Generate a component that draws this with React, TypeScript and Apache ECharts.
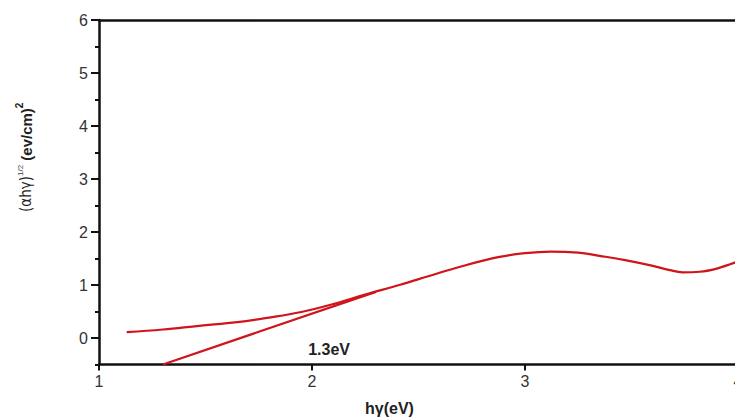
import React, { useEffect, useRef } from "react";
import * as echarts from "echarts";

const curveX = [1.13, 1.3, 1.47, 1.65, 1.79, 1.95, 2.1, 2.25, 2.41, 2.55, 2.7, 2.88, 3.0, 3.12, 3.25, 3.35, 3.47, 3.59, 3.68, 3.74, 3.82, 3.9, 3.99];
const curveY = [0.11, 0.16, 0.23, 0.3, 0.38, 0.49, 0.64, 0.82, 1.0, 1.17, 1.35, 1.53, 1.6, 1.63, 1.61, 1.55, 1.47, 1.37, 1.28, 1.24, 1.25, 1.31, 1.43];
const tangentX = [1.3, 2.3];
const tangentY = [-0.5, 0.87];
const yTickLabels = [0, 1, 2, 3, 4, 5, 6];
const gapLabel = "1.3eV";
const gapLabelPos = [2.08, -0.21];

export default function App() {
  const ref = useRef<HTMLDivElement>(null);
  useEffect(() => {
    const chart = echarts.init(ref.current!, null, { renderer: "svg" });
    const font = "Liberation Sans, Arial, sans-serif";
    const axisLine = { show: true, onZero: false, lineStyle: { color: "#111", width: 2.5 } };
    chart.setOption({
      animation: false,
      grid: { left: 99, top: 20, width: 639, bottom: 52.5, containLabel: false, outerBoundsMode: "none" },
      xAxis: [
        {
          type: "value",
          min: 1,
          max: 4,
          interval: 1,
          position: "bottom",
          axisLine,
          axisTick: { show: true, length: 6, lineStyle: { color: "#111", width: 2 } },
          axisLabel: { color: "#333", fontSize: 16, fontFamily: font, margin: 9 },
          splitLine: { show: false },
          name: "hγ(eV)",
          nameLocation: "middle",
          nameGap: 36,
          nameTextStyle: { color: "#222", fontSize: 16, fontWeight: "bold", fontFamily: font, padding: [0, 58, 0, 0] },
        },
        {
          type: "value",
          min: 1,
          max: 4,
          position: "top",
          axisLine,
          axisTick: { show: false },
          axisLabel: { show: false },
          splitLine: { show: false },
        },
      ],
      yAxis: [
        {
          type: "value",
          min: -0.5,
          max: 6,
          interval: 0.5,
          position: "left",
          axisLine,
          axisTick: { show: true, length: 4, lineStyle: { color: "#111", width: 2 } },
          axisLabel: { show: false },
          splitLine: { show: false },
          name: "",
        },
        {
          type: "value",
          min: -0.5,
          max: 6,
          interval: 0.5,
          position: "left",
          axisLine: { show: false, onZero: false },
          axisTick: { show: true, length: 8, customValues: yTickLabels, lineStyle: { color: "#111", width: 2 } },
          axisLabel: { show: true, customValues: yTickLabels, color: "#333", fontSize: 16, fontFamily: font, margin: 11 },
          splitLine: { show: false },
          name: "{a|(αhγ)}{s|1/2}{b| (ev/cm)}{t|2}",
          nameLocation: "middle",
          nameGap: 64,
          nameRotate: 90,
          nameTextStyle: {
            padding: [0, 0, 0, 70],
            rich: {
              a: { fontSize: 15, fontFamily: "DejaVu Sans Condensed, Liberation Sans Narrow, sans-serif", color: "#222", lineHeight: 18 },
              s: { fontSize: 8, fontFamily: font, color: "#444", lineHeight: 18, padding: [0, 0, 12, 0] },
              b: { fontSize: 15, fontWeight: "bold", fontFamily: font, color: "#222", lineHeight: 18 },
              t: { fontSize: 10, fontWeight: "bold", fontFamily: font, color: "#222", lineHeight: 18, padding: [0, 0, 14, 0] },
            },
          },
        },
      ],
      series: [
        {
          type: "line",
          data: curveX.map((x, i) => [x, curveY[i]]),
          smooth: 0.4,
          showSymbol: false,
          lineStyle: { color: "#d0141c", width: 2.2 },
          markPoint: {
            symbol: "circle",
            symbolSize: 0,
            data: [{ coord: gapLabelPos, value: gapLabel }],
            label: { show: true, formatter: gapLabel, color: "#222", fontSize: 16, fontWeight: "bold", fontFamily: font, position: "inside" },
          },
        },
        {
          type: "line",
          data: tangentX.map((x, i) => [x, tangentY[i]]),
          showSymbol: false,
          lineStyle: { color: "#d0141c", width: 2.2 },
        },
      ],
    });
    return () => chart.dispose();
  }, []);
  return <div ref={ref} style={{ width: 735, height: 417, position: "absolute", left: 0, top: 0, background: "#fff" }} />;
}
